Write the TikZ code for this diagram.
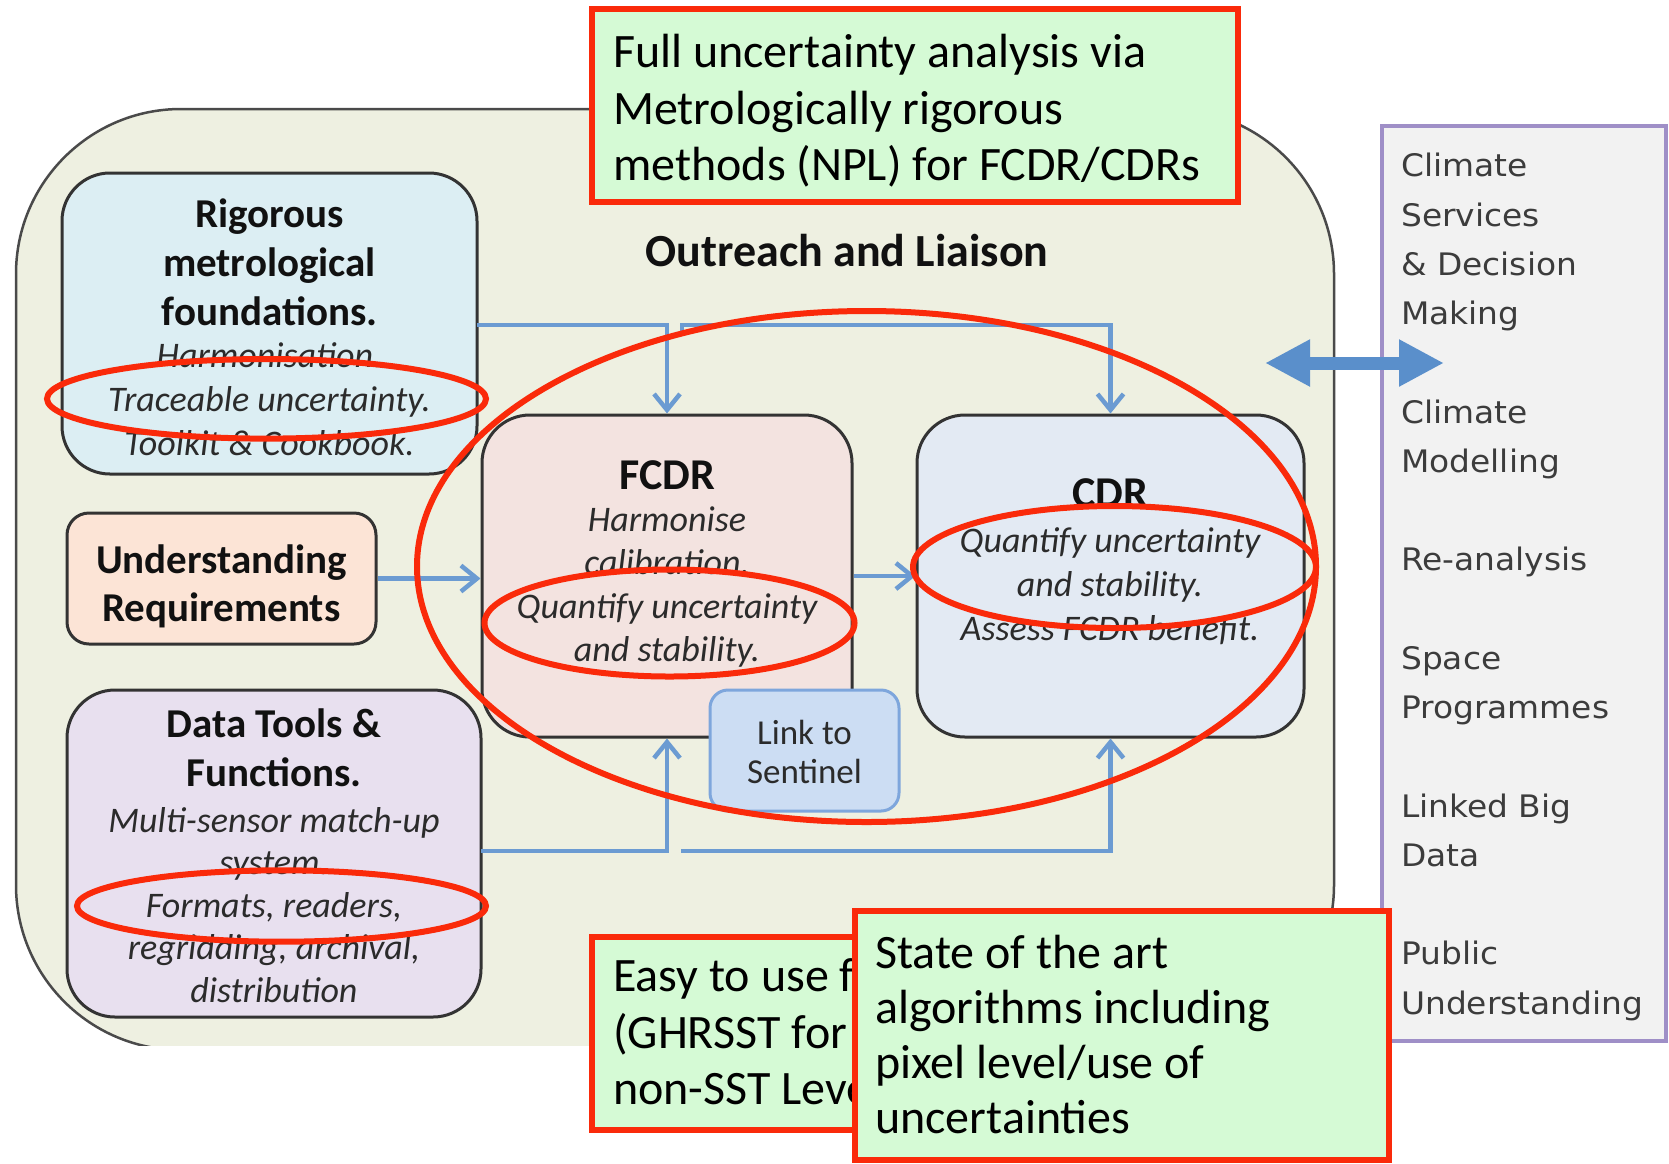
\documentclass[tikz,border=0pt]{standalone}
\usepackage{fontspec}
\setmainfont{Carlito}
\newfontfamily\panelfont[FakeStretch=1.06]{DejaVu Sans}
\usetikzlibrary{arrows.meta,shapes.geometric}
\definecolor{outerfill}{HTML}{EEF0E1}
\definecolor{outerline}{HTML}{4A4A4A}
\definecolor{panelfill}{HTML}{F2F2F2}
\definecolor{panelline}{HTML}{9F8FC7}
\definecolor{boxline}{HTML}{333333}
\definecolor{rigfill}{HTML}{DCEEF3}
\definecolor{undfill}{HTML}{FCE4D6}
\definecolor{datfill}{HTML}{E8E0EF}
\definecolor{fcdrfill}{HTML}{F3E3E0}
\definecolor{cdrfill}{HTML}{E3EAF3}
\definecolor{linkfill}{HTML}{CCDDF3}
\definecolor{linkline}{HTML}{7EA6DC}
\definecolor{flowblue}{HTML}{6B9BD2}
\definecolor{flowdark}{HTML}{5A8FCB}
\definecolor{ringred}{HTML}{FA2A0A}
\definecolor{notegreen}{HTML}{D5FAD5}
\definecolor{titlecol}{HTML}{111111}
\definecolor{italcol}{HTML}{2B2B2B}
\definecolor{paneltext}{HTML}{3C3C3C}
\begin{document}
\begin{tikzpicture}[x=1pt,y=-1pt,
  box/.style={draw=boxline, line width=3pt, rounded corners=48pt, inner sep=0pt},
  btitle/.style={font=\fontsize{41}{49}\selectfont\bfseries, align=center, text=titlecol, inner sep=0pt},
  bital/.style={font=\fontsize{36}{43.5}\selectfont\itshape, align=center, text=italcol, inner sep=0pt},
  flow/.style={draw=flowblue, line width=4.5pt, -{Straight Barb[length=16pt,width=26pt]}},
  ring/.style={draw=ringred, line width=6pt, ellipse, inner sep=0pt},
  note/.style={draw=ringred, fill=notegreen, line width=6pt, inner sep=0pt},
  notetext/.style={font=\fontsize{48}{56.5}\selectfont, align=left, anchor=west, inner sep=0pt, text=black}
]
\useasboundingbox (0,0) rectangle (1669,1163);
\fill[white] (0,0) rectangle (1669,1163);

% outer region
\begin{scope}
\clip (0,0) rectangle (1669,1045);
\draw[fill=outerfill, draw=outerline, line width=2.5pt, rounded corners=165pt] (16,109) rectangle (1334,1050);
\end{scope}

% right panel
\node[draw=panelline, fill=panelfill, line width=3.5pt, minimum width=284pt, minimum height=915pt, inner sep=0pt] (panel) at (1524,583.5) {};
\node[font=\panelfont\fontsize{31}{49.25}\selectfont, text=paneltext, align=left, anchor=west, inner sep=0pt] (paneltxt) at (1401,587)
 {Climate\\Services\\\& Decision\\Making\\[49.25pt]Climate\\Modelling\\[49.25pt]Re-analysis\\[49.25pt]Space\\Programmes\\[49.25pt]Linked Big\\Data\\[49.25pt]Public\\Understanding};

\node[font=\fontsize{46}{54}\selectfont\bfseries, text=titlecol, anchor=base, inner sep=0pt] (outreach) at (847,266) {Outreach and Liaison};

% boxes
\node[box, fill=rigfill, minimum width=415pt, minimum height=301pt] (rig) at (269.5,323.5) {};
\node[box, fill=undfill, rounded corners=22pt, minimum width=309pt, minimum height=131pt] (und) at (221.5,578.5) {};
\node[box, fill=datfill, minimum width=414pt, minimum height=327pt] (dat) at (274,853.5) {};
\node[box, fill=fcdrfill, minimum width=370pt, minimum height=322pt] (fcdr) at (667,576) {};
\node[box, fill=cdrfill, minimum width=387pt, minimum height=322pt] (cdr) at (1110.5,576) {};
\node[box, draw=linkline, fill=linkfill, rounded corners=18pt, minimum width=189pt, minimum height=121pt] (link) at (804.5,750.5) {};

% flows
\coordinate (t1) at (477,325);
\coordinate (t2) at (682,333);
\coordinate (b1) at (481,851);
\coordinate (b2) at (681,851);
\draw[flow] (t1) -| (fcdr.north);
\draw[flow] (t2) -- ++(0,-8) -| (cdr.north);
\draw[flow] (b1) -| (fcdr.south);
\draw[flow] (b2) -| (cdr.south);
\draw[flow] (und.east) -- (fcdr.west |- und.east);
\draw[flow] (fcdr.east) -- (cdr.west);

% box texts
\node[btitle] (rigT) at (269.5,262) {Rigorous\\metrological\\foundations.};
\node[bital, font=\fontsize{36}{44}\selectfont\itshape] (rigI) at (269.5,399) {Harmonisation.\\Traceable uncertainty.\\Toolkit \& Cookbook.};
\node[btitle, font=\fontsize{41}{48}\selectfont\bfseries] (undT) at (221.5,586.5) {Understanding\\Requirements};
\node[btitle] (datT) at (274,748) {Data Tools \&\\Functions.};
\node[bital, font=\fontsize{36}{42.5}\selectfont\itshape] (datI) at (274,905) {Multi-sensor match-up\\system.\\Formats, readers,\\regridding, archival,\\distribution};
\node[btitle, font=\fontsize{44}{52}\selectfont\bfseries, anchor=base] (fcdrT) at (667,489) {FCDR};
\node[bital, font=\fontsize{36}{43.3}\selectfont\itshape] (fcdrI) at (667,587) {Harmonise\\calibration.\\Quantify uncertainty\\and stability.};
\node[btitle, font=\fontsize{44}{52}\selectfont\bfseries, anchor=base] (cdrT) at (1110,507) {CDR};
\node[bital, font=\fontsize{36}{44}\selectfont\itshape] (cdrI) at (1110,586) {Quantify uncertainty\\and stability.\\Assess FCDR benefit.};
\node[font=\fontsize{35}{39}\selectfont, align=center, text=italcol, inner sep=0pt] (linkT) at (804.5,752) {Link to\\Sentinel};

% double arrow
\coordinate (dl) at (1265,363);
\coordinate (dr) at (1444,363);
\draw[draw=flowdark, line width=13pt, {Triangle[length=45pt,width=44pt]}-{Triangle[length=45pt,width=44pt]}] (dl) -- (dr);

% red ellipses
\node[ring, minimum width=439pt, minimum height=79.6pt] (e1) at (266.5,398.8) {};
\node[ring, minimum width=899pt, minimum height=511pt] (e2) at (866.5,566.5) {};
\node[ring, minimum width=370pt, minimum height=107pt] (e3) at (669.5,623) {};
\node[ring, minimum width=403pt, minimum height=122pt] (e4) at (1114.5,567) {};
\node[ring, minimum width=409pt, minimum height=71.4pt] (e5) at (281.5,906) {};

% green notes
\node[note, minimum width=646pt, minimum height=193pt] (full) at (915,105.5) {};
\node[notetext] (fullT) at (613,111) {Full uncertainty analysis via\\Metrologically rigorous\\methods (NPL) for FCDR/CDRs};
\node[note, minimum width=276pt, minimum height=193pt] (easy) at (730,1033.5) {};
\node[notetext] (easyT) at (613,1032) {Easy to use f\\(GHRSST for\\non-SST Leve};
\node[note, minimum width=534pt, minimum height=249pt] (state) at (1122,1035.5) {};
\node[notetext, font=\fontsize{48}{55}\selectfont] (stateT) at (875,1034) {State of the art\\algorithms including\\pixel level/use of\\uncertainties};
\end{tikzpicture}
\end{document}
